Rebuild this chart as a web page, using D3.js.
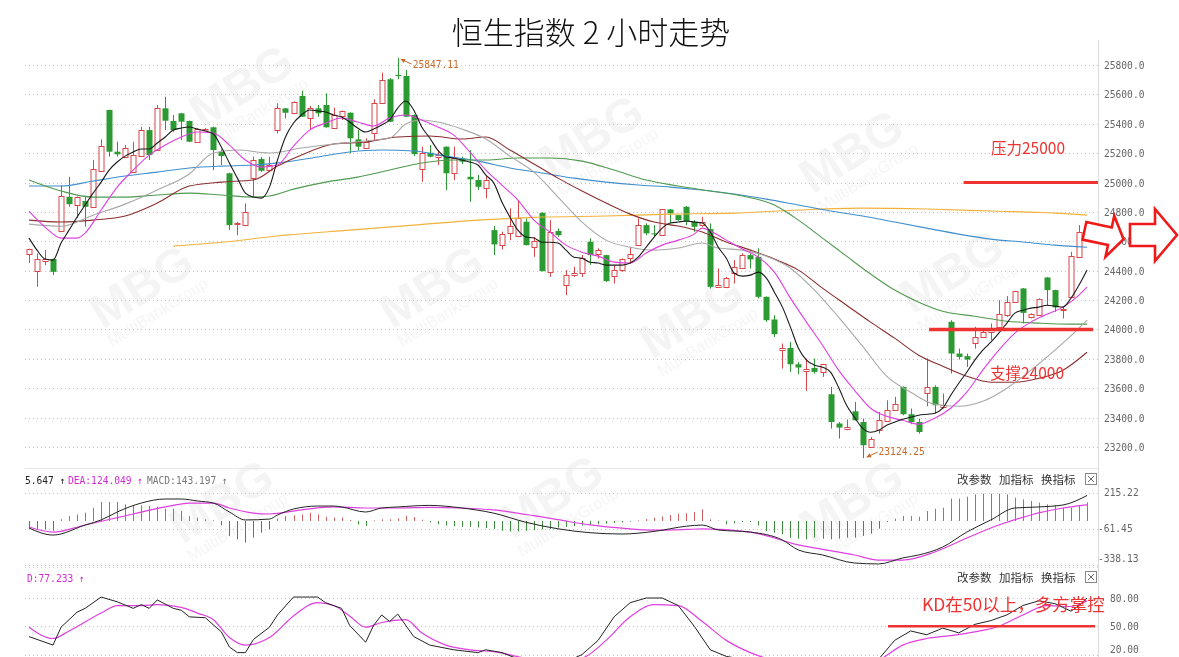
<!DOCTYPE html>
<html><head><meta charset="utf-8">
<script src="https://cdn.jsdelivr.net/npm/d3@7/dist/d3.min.js"></script>
<style>body{margin:0;background:#fff;overflow:hidden}svg{display:block}</style>
</head><body>
<svg id="c" width="1179" height="657"></svg>
<script>
// ---------------- DATA ----------------
const title = "恒生指数 2 小时走势";
const priceTicks = [23200,23400,23600,23800,24000,24200,24400,24600,24800,25000,25200,25400,25600,25800];
const macdTicks = [215.22,-61.45,-338.13];
const kdTicks = [80,50,20];

const openVals = [24511,24392,24460,24480,24669,24903,24847,24874,24835,25080,25494,25210,25176,25073,25180,25357,25221,25505,25419,25471,25419,25278,25364,25376,25210,25063,24715,24706,25028,25160,25085,25357,25505,25475,25589,25437,25505,25528,25369,25453,25475,25294,25240,25335,25539,25703,25732,25725,25460,25090,25203,25172,25244,25063,25165,25039,25017,24960,24676,24574,24654,24631,24733,24562,24794,24392,24670,24302,24370,24381,24597,24513,24506,24363,24404,24483,24574,24710,24654,24642,24817,24778,24835,24733,24710,24683,24286,24290,24385,24415,24506,24494,24222,24068,23859,23874,23763,23718,23738,23711,23559,23360,23325,23443,23370,23205,23314,23382,23455,23609,23423,23370,23568,23609,23468,24052,23836,23818,23909,23950,23988,24013,24102,24188,24279,24082,24097,24354,24268,24127,24222,24494,24670];
const highVals = [24550,24518,24540,24482,24983,25039,24905,24910,25153,25294,25496,25278,25255,25278,25380,25380,25528,25584,25460,25474,25422,25372,25370,25380,25226,25066,24733,24858,25176,25174,25176,25539,25507,25553,25625,25521,25528,25607,25509,25490,25478,25357,25301,25567,25748,25712,25847.11,25766,25463,25244,25255,25221,25246,25244,25176,25221,25051,25051,24704,24665,24824,24881,24756,24631,24797,24744,24688,24404,24426,24506,24620,24552,24508,24438,24483,24562,24756,24722,24710,24820,24820,24780,24840,24744,24767,24722,24415,24358,24472,24518,24518,24552,24225,24097,23904,23915,23779,23802,23802,23766,23609,23370,23387,23507,23393,23268,23438,23518,23541,23612,23462,23393,23802,23620,23564,24063,23870,23836,24018,24006,24041,24199,24227,24263,24282,24110,24211,24356,24270,24154,24528,24710,24690];
const lowVals = [24452,24291,24438,24370,24665,24835,24758,24699,24830,25078,25176,25176,25174,25071,25178,25153,25219,25357,25346,25289,25275,25271,25360,25085,25119,24676,24642,24703,24903,25073,25073,25335,25437,25472,25446,25357,25448,25374,25367,25426,25199,25221,25233,25289,25536,25412,25703,25446,25180,25005,25172,25119,24949,25017,25126,24869,24949,24892,24506,24545,24608,24629,24572,24494,24395,24358,24631,24234,24358,24358,24438,24483,24324,24313,24392,24449,24572,24642,24635,24640,24722,24740,24710,24665,24699,24279,24284,24281,24313,24413,24415,24211,24052,23949,23734,23711,23695,23582,23700,23677,23325,23257,23314,23380,23124.25,23200,23291,23370,23450,23416,23355,23291,23477,23428,23462,23700,23795,23745,23870,23945,23927,24010,24086,24185,24041,24075,24095,24159,24120,24075,24220,24490,24631];
const closeVals = [24545,24477,24477,24392,24910,24853,24903,24835,25092,25250,25210,25192,25237,25187,25357,25187,25505,25421,25357,25414,25278,25364,25366,25221,25180,24710,24722,24797,25153,25080,25119,25505,25475,25550,25448,25505,25471,25376,25460,25487,25301,25244,25278,25539,25698,25414,25725,25448,25194,25199,25176,25187,25063,25165,25142,25022,24971,25017,24579,24647,24704,24756,24574,24601,24397,24665,24642,24370,24385,24483,24506,24540,24329,24404,24477,24511,24710,24654,24647,24817,24790,24744,24733,24699,24733,24290,24302,24351,24426,24506,24477,24222,24063,23968,23874,23763,23741,23734,23711,23763,23370,23332,23336,23382,23212,23257,23382,23455,23496,23423,23370,23302,23609,23484,23484,23836,23813,23795,23950,23984,23999,24102,24188,24261,24113,24102,24204,24268,24150,24136,24499,24665,24660];

// moving averages: [candle index, value]
const ma5 = [24622,24540,24479,24472,24588,24676,24765,24847,24928,25003,25085,25140,25180,25208,25228,25228,25269,25310,25357,25371,25378,25364,25351,25330,25242,25133,25030,24928,24901,24894,24969,25153,25310,25405,25460,25494,25487,25480,25460,25446,25412,25371,25344,25364,25392,25426,25507,25555,25494,25378,25303,25221,25174,25167,25153,25140,25119,25051,24996,24867,24765,24676,24629,24622,24594,24594,24588,24540,24492,24485,24458,24452,24438,24438,24438,24452,24492,24560,24629,24690,24724,24731,24738,24731,24724,24663,24560,24485,24383,24363,24370,24390,24349,24254,24152,24016,23872,23791,23757,23743,23709,23607,23484,23402,23328,23300,23314,23348,23369,23389,23402,23416,23423,23430,23464,23552,23634,23709,23791,23859,23913,23975,24043,24111,24131,24145,24152,24165,24159,24152,24213,24302,24404];
const ma10 = [[0,24806],[2,24697],[4,24622],[6,24622],[7,24656],[9,24813],[11,24969],[13,25085],[15,25187],[17,25255],[19,25310],[21,25344],[23,25337],[25,25255],[27,25153],[29,25105],[31,25119],[33,25248],[35,25357],[37,25405],[39,25439],[41,25412],[43,25385],[45,25439],[47,25460],[49,25426],[51,25378],[53,25323],[55,25208],[57,25085],[59,24983],[61,24881],[63,24744],[65,24663],[67,24574],[69,24526],[71,24499],[73,24458],[75,24452],[77,24520],[79,24574],[81,24608],[83,24649],[84,24690],[85,24670],[87,24608],[89,24547],[91,24492],[93,24390],[95,24213],[97,24050],[99,23893],[101,23723],[103,23586],[105,23464],[107,23409],[109,23382],[111,23355],[113,23396],[115,23464],[117,23573],[119,23723],[121,23859],[123,23975],[125,24050],[127,24104],[129,24152],[131,24234],[132,24288]];
const ma20 = [[0,24717],[4,24703],[8,24778],[12,24853],[16,24949],[20,25058],[23,25201],[26,25221],[30,25201],[34,25235],[38,25262],[42,25283],[45,25303],[47,25398],[49,25426],[51,25412],[54,25364],[57,25296],[60,25180],[63,25071],[66,24901],[69,24731],[72,24608],[75,24560],[78,24540],[81,24554],[84,24588],[86,24554],[89,24540],[92,24499],[95,24417],[98,24268],[101,24084],[104,23886],[107,23682],[110,23573],[113,23491],[116,23477],[119,23511],[122,23600],[125,23723],[128,23859],[131,24009],[132,24063]];
const ma30 = [[0,24744],[4,24731],[8,24744],[12,24772],[16,24860],[20,24976],[24,25003],[28,25017],[31,25112],[34,25187],[38,25262],[42,25276],[46,25310],[50,25317],[54,25296],[57,25310],[60,25221],[63,25126],[66,25030],[69,24942],[72,24860],[75,24785],[78,24731],[81,24704],[84,24663],[87,24595],[90,24540],[93,24479],[96,24404],[99,24281],[102,24165],[105,24050],[108,23941],[111,23825],[114,23750],[117,23682],[120,23641],[123,23641],[126,23668],[129,23723],[132,23845]];
const ma60 = [[0,25017],[4,24942],[8,24901],[12,24901],[16,24915],[20,24928],[24,24915],[28,24901],[30,24908],[33,24955],[37,25003],[41,25037],[45,25085],[49,25133],[53,25153],[57,25153],[61,25167],[65,25167],[69,25146],[73,25085],[77,25017],[81,24976],[85,24942],[89,24908],[93,24847],[96,24744],[99,24622],[102,24499],[105,24377],[108,24268],[111,24186],[114,24124],[118,24090],[122,24056],[126,24043],[130,24036],[132,24036]];
const ma120 = [[0,24976],[4,24976],[8,25010],[12,25044],[16,25071],[20,25099],[24,25112],[28,25119],[32,25140],[36,25174],[40,25208],[44,25221],[48,25215],[52,25180],[56,25146],[60,25099],[64,25065],[68,25030],[72,25003],[76,24983],[80,24969],[84,24949],[88,24922],[92,24887],[96,24847],[100,24806],[104,24772],[108,24731],[112,24690],[116,24649],[120,24615],[124,24595],[128,24574],[132,24560]];
const ma250 = [[18,24567],[24,24594],[32,24642],[40,24676],[48,24710],[56,24744],[64,24765],[72,24772],[80,24785],[88,24792],[96,24813],[104,24826],[112,24820],[120,24806],[128,24792],[132,24778]];

// MACD
const macdHist = [-55,-60,-65,-75,13,38,51,64,102,146,146,146,128,120,120,115,110,95,95,77,38,26,13,5,-33,-115,-141,-166,-128,-90,-64,18,38,44,51,64,51,33,26,26,8,-26,-38,5,13,13,
 20,40,30,10,-10,-25,-35,-40,-45,-45,-50,-55,-60,-75,-80,-80,-75,-70,-65,-60,-50,-45,-40,-35,-30,-25,-20,-15,-10,-5,5,15,25,35,45,55,60,70,
 90,13,3,-26,-18,-8,-8,-33,-77,-90,-102,-128,-136,-141,-128,-136,-141,-136,-128,-128,-115,-97,-59,-8,18,38,38,33,77,95,102,172,172,187,205,210,210,210,205,179,166,154,141,128,120,102,102,120,143];
const difPts = [[0,-54],[3,-108],[7,-31],[9,8],[11,69],[14,138],[17,169],[19,169],[21,154],[23,138],[25,69],[27,8],[30,15],[31,46],[33,92],[36,115],[38,115],[39,108],[42,69],[44,100],[46,108],[50,120],[54,100],[58,60],[62,-10],[66,-60],[70,-90],[74,-100],[78,-80],[82,-40],[84,-31],[86,-69],[90,-85],[94,-146],[96,-223],[99,-261],[103,-323],[106,-330],[109,-284],[111,-261],[114,-200],[117,-85],[120,8],[123,100],[126,108],[129,123],[132,196]];
const deaPts = [[0,-46],[3,-85],[7,-31],[13,54],[17,108],[20,138],[23,138],[25,100],[28,61],[30,54],[34,85],[38,108],[42,100],[46,100],[50,105],[54,100],[58,85],[62,50],[66,10],[70,-30],[74,-55],[78,-70],[82,-65],[84,-61],[90,-85],[96,-184],[103,-261],[106,-300],[109,-300],[113,-238],[117,-131],[121,-31],[125,46],[129,100],[132,124]];

// KD
const kPts = [[0,39],[3,30],[4,49],[6,65],[7,69],[9,81],[11,76],[13,69],[14,73],[15,69],[16,78],[18,69],[19,67],[20,60],[22,59],[24,44],[25,28],[26,22],[27,22],[28,36],[30,49],[31,62],[33,81],[35,81],[36,81],[37,75],[39,69],[40,51],[42,33],[43,51],[44,62],[45,55],[46,63],[48,39],[50,30],[53,25],[56,22],[57,25],[59,22],[62,12],[66,8],[69,20],[71,35],[73,60],[75,75],[77,80],[79,80],[81,72],[83,50],[85,25],[87,18],[89,15],[92,8],[96,5],[100,5],[104,8],[106,15],[108,35],[110,45],[112,41],[114,48],[116,43],[118,52],[120,56],[122,62],[124,72],[126,77],[128,74],[130,66],[131,72],[132,80]];
const dPts = [[0,49],[3,37],[5,45],[9,64],[11,72],[14,72],[16,73],[19,70],[21,64],[23,57],[25,38],[27,30],[30,38],[33,61],[36,75],[38,72],[40,61],[42,49],[44,54],[47,57],[49,43],[52,30],[55,25],[58,23],[62,16],[66,12],[69,16],[72,35],[75,60],[78,73],[81,72],[84,55],[87,35],[90,22],[94,12],[100,8],[104,9],[106,14],[109,30],[112,37],[115,40],[118,44],[121,50],[124,62],[127,72],[130,71],[132,77]];

const resistance = 25000, support = 24000, kdLevel = 50;
const highLabel = "25847.11", lowLabel = "23124.25";

// ---------------- DRAW ----------------
const svg = d3.select('#c');
const L = 25, R = 1098;
const x = d3.scaleLinear().domain([0,132]).range([29,1087]);
const y = d3.scaleLinear().domain([23200,25800]).range([447,65]);
const yM = d3.scaleLinear().domain([-338.13,215.22]).range([565,493]);
const yK = d3.scaleLinear().domain([20,80]).range([654.5,598]);
const RED = '#d9474a', GREEN = '#2c9a32';
const mono = "'DejaVu Sans Mono','Liberation Mono',monospace";
const cjk = "'Noto Sans CJK SC','Noto Sans',sans-serif";

const defs = svg.append('defs');
defs.append('clipPath').attr('id','cm').append('rect').attr('x',L).attr('y',45).attr('width',R-L).attr('height',420);
defs.append('clipPath').attr('id','cmacd').append('rect').attr('x',L).attr('y',470).attr('width',R-L).attr('height',96);
defs.append('clipPath').attr('id','ckd').append('rect').attr('x',L).attr('y',568).attr('width',R-L).attr('height',89);

// watermarks (faint)
const wm = svg.append('g').attr('fill','#000').attr('opacity',0.045);
const wmPos = [[250,100],[600,150],[860,165],[150,300],[440,300],[700,330],[960,285],[230,515],[560,510],[860,515]];
wmPos.forEach(([cx,cy])=>{
  const g = wm.append('g').attr('transform',`translate(${cx},${cy}) rotate(-32)`);
  g.append('text').attr('text-anchor','middle').attr('font-family','Arial,Liberation Sans,sans-serif').attr('font-weight','bold').attr('font-size',48).text('MBG');
  g.append('text').attr('text-anchor','middle').attr('y',20).attr('font-family','Arial,Liberation Sans,sans-serif').attr('font-size',16).text('MultiBankGroup');
});

// title
svg.append('text').attr('x',591).attr('y',44).attr('text-anchor','middle').attr('font-family',cjk).attr('font-weight',300).attr('font-size',31).attr('fill','#111').text(title);

// axis separator
svg.append('line').attr('x1',R+0.5).attr('x2',R+0.5).attr('y1',40).attr('y2',657).attr('stroke','#dcdcdc');
svg.append('line').attr('x1',L).attr('x2',R).attr('y1',468.5).attr('y2',468.5).attr('stroke','#e6e6e6');

// price grid + labels
const gm = svg.append('g');
priceTicks.forEach(v=>{
  gm.append('line').attr('x1',L).attr('x2',R).attr('y1',Math.round(y(v))+0.5).attr('y2',Math.round(y(v))+0.5)
    .attr('stroke','#c4c4c4').attr('stroke-dasharray','1,3');
  gm.append('text').attr('x',1104).attr('y',y(v)+4).attr('font-family',mono).attr('font-size',9.6).attr('fill','#666').text(v.toFixed(1));
});

// candles
const gc = svg.append('g').attr('clip-path','url(#cm)');
d3.range(openVals.length).forEach(i=>{
  const o=openVals[i], c=closeVals[i], h=highVals[i], l=lowVals[i];
  const up = c>=o, col = up?RED:GREEN;
  const cx = Math.round(x(i))+0.5;
  const top = y(Math.max(o,c)), bot = y(Math.min(o,c));
  gc.append('line').attr('x1',cx).attr('x2',cx).attr('y1',y(h)).attr('y2',y(l)).attr('stroke',col);
  if(up){
    gc.append('rect').attr('x',cx-2.5).attr('y',Math.round(top)+0.5).attr('width',5).attr('height',Math.max(0.5,Math.round(bot-top)))
      .attr('fill','#fff').attr('stroke',col);
  } else {
    gc.append('rect').attr('x',cx-3).attr('y',top).attr('width',6).attr('height',Math.max(1,bot-top)).attr('fill',col);
  }
});

// moving averages
const lineP = d3.line().x(d=>x(d[0])).y(d=>y(d[1])).curve(d3.curveMonotoneX);
const maSpecs = [[ma250,'#f2b23a'],[ma120,'#3f8fce'],[ma60,'#4f9a4f'],[ma30,'#8a2e2e'],[ma20,'#a8a8a8'],[ma10,'#df3fe0'],[ma5.map((v,i)=>[i,v]),'#1a1a1a']];
const gl = svg.append('g').attr('clip-path','url(#cm)');
maSpecs.forEach(([d,col])=>gl.append('path').attr('d',lineP(d)).attr('fill','none').attr('stroke',col).attr('stroke-width',1.1));

// high / low labels
const hiV = d3.max(highVals), loV = d3.min(lowVals);
const hiI = highVals.indexOf(hiV), loI = lowVals.indexOf(loV);
const lc = '#c8692a';
svg.append('line').attr('x1',x(hiI)+14).attr('x2',x(hiI)+3).attr('y1',y(hiV)+6).attr('y2',y(hiV)+1).attr('stroke',lc);
svg.append('path').attr('d',`M${x(hiI)+3},${y(hiV)+1} l5,0 l-2,4 z`).attr('fill',lc);
svg.append('text').attr('x',x(hiI)+15).attr('y',y(hiV)+10).attr('font-family',mono).attr('font-size',9.6).attr('fill',lc).text(highLabel);
svg.append('line').attr('x1',x(loI)+15).attr('x2',x(loI)+4).attr('y1',y(loV)-6).attr('y2',y(loV)-1).attr('stroke',lc);
svg.append('path').attr('d',`M${x(loI)+4},${y(loV)-1} l5,0 l-2,-4 z`).attr('fill',lc);
svg.append('text').attr('x',x(loI)+16).attr('y',y(loV)-3).attr('font-family',mono).attr('font-size',9.6).attr('fill',lc).text(lowLabel);

// resistance / support annotations
const AR = '#ee3333';
svg.append('line').attr('x1',x(116.6)).attr('x2',R).attr('y1',y(resistance)).attr('y2',y(resistance)).attr('stroke',AR).attr('stroke-width',3);
svg.append('text').attr('x',991).attr('y',y(resistance)-29).attr('font-family',cjk).attr('font-size',15.5).attr('fill',AR).text('压力25000');
svg.append('line').attr('x1',x(112.3)).attr('x2',1093).attr('y1',y(support)).attr('y2',y(support)).attr('stroke',AR).attr('stroke-width',3.5);
svg.append('text').attr('x',990).attr('y',y(support)+50).attr('font-family',cjk).attr('font-size',15.5).attr('fill',AR).text('支撑24000');

// arrows (hollow, red)
function arrow(x0,x1,cy,sh,hh,hw){
  return `M${x0},${cy-sh} L${x1-hw},${cy-sh} L${x1-hw},${cy-hh} L${x1},${cy} L${x1-hw},${cy+hh} L${x1-hw},${cy+sh} L${x0},${cy+sh} Z`;
}
svg.append('path').attr('d',arrow(1084,1124,235,9,21,14)).attr('transform','rotate(12,1104,235)').attr('fill','#fff').attr('stroke','#f01818').attr('stroke-width',2.6);
svg.append('path').attr('d',arrow(1130,1177,235,11,26,22)).attr('fill','#fff').attr('stroke','#f01818').attr('stroke-width',2.6);

// ---------------- MACD ----------------
const gmac = svg.append('g');
macdTicks.forEach(v=>{
  gmac.append('line').attr('x1',L).attr('x2',R).attr('y1',Math.round(yM(v))+0.5).attr('y2',Math.round(yM(v))+0.5).attr('stroke','#c4c4c4').attr('stroke-dasharray','1,3');
});
gmac.append('text').attr('x',1104).attr('y',yM(215.22)+3).attr('font-family',mono).attr('font-size',9.6).attr('fill','#666').text('215.22');
gmac.append('text').attr('x',1098).attr('y',yM(-61.45)+3).attr('font-family',mono).attr('font-size',9.6).attr('fill','#666').text('-61.45');
gmac.append('text').attr('x',1098).attr('y',yM(-338.13)-3).attr('font-family',mono).attr('font-size',9.6).attr('fill','#666').text('-338.13');
const gmb = svg.append('g').attr('clip-path','url(#cmacd)');
macdHist.forEach((v,i)=>{
  const cx = Math.round(x(i))+0.5;
  gmb.append('line').attr('x1',cx).attr('x2',cx).attr('y1',yM(0)).attr('y2',yM(v)).attr('stroke',v>=0?'#d06060':'#3f8f3f').attr('stroke-width',1);
});
const lineM = d3.line().x(d=>x(d[0])).y(d=>yM(d[1])).curve(d3.curveMonotoneX);
gmb.append('path').attr('d',lineM(deaPts)).attr('fill','none').attr('stroke','#df3fe0').attr('stroke-width',1.2);
gmb.append('path').attr('d',lineM(difPts)).attr('fill','none').attr('stroke','#222').attr('stroke-width',1);

// headers
const hdr = svg.append('g').attr('font-family',mono).attr('font-size',9.6);
hdr.append('text').attr('x',25).attr('y',484).attr('fill','#222').text('5.647 \u2191');
hdr.append('text').attr('x',68).attr('y',484).attr('fill','#d42bd4').text('DEA:124.049 \u2191');
hdr.append('text').attr('x',147).attr('y',484).attr('fill','#777').text('MACD:143.197 \u2191');
hdr.append('text').attr('x',27).attr('y',582).attr('fill','#d42bd4').text('D:77.233 \u2191');
[484,582].forEach(yy=>{
  const g = svg.append('g').attr('font-family',cjk).attr('font-size',11.5).attr('fill','#333');
  g.append('text').attr('x',957).attr('y',yy).text('改参数');
  g.append('text').attr('x',999).attr('y',yy).text('加指标');
  g.append('text').attr('x',1041).attr('y',yy).text('换指标');
  g.append('rect').attr('x',1085.5).attr('y',yy-10.5).attr('width',11).attr('height',11).attr('fill','none').attr('stroke','#888');
  g.append('path').attr('d',`M${1088},${yy-8} l6,6 M${1094},${yy-8} l-6,6`).attr('stroke','#666');
});

// ---------------- KD ----------------
const gkd = svg.append('g');
gkd.append('line').attr('x1',L).attr('x2',R).attr('y1',567.5).attr('y2',567.5).attr('stroke','#d0d0d0').attr('stroke-dasharray','1,3');
kdTicks.forEach(v=>{
  gkd.append('line').attr('x1',L).attr('x2',R).attr('y1',Math.round(yK(v))+0.5).attr('y2',Math.round(yK(v))+0.5).attr('stroke','#c4c4c4').attr('stroke-dasharray','1,3');
  gkd.append('text').attr('x',1110).attr('y',Math.min(yK(v)+4,653)).attr('font-family',mono).attr('font-size',9.6).attr('fill','#666').text(v.toFixed(2));
});
const gkl = svg.append('g').attr('clip-path','url(#ckd)');
gkl.append('path').attr('d',d3.line().x(d=>x(d[0])).y(d=>yK(d[1])).curve(d3.curveMonotoneX)(dPts)).attr('fill','none').attr('stroke','#df3fe0').attr('stroke-width',1.2);
gkl.append('path').attr('d',d3.line().x(d=>x(d[0])).y(d=>yK(d[1]))(kPts)).attr('fill','none').attr('stroke','#222').attr('stroke-width',1);
svg.append('line').attr('x1',888).attr('x2',1095).attr('y1',yK(kdLevel)).attr('y2',yK(kdLevel)).attr('stroke',AR).attr('stroke-width',2.5);
svg.append('text').attr('x',922).attr('y',611).attr('font-family',cjk).attr('font-size',17.5).attr('fill',AR).text('KD在50以上，多方掌控');
</script>
</body></html>
